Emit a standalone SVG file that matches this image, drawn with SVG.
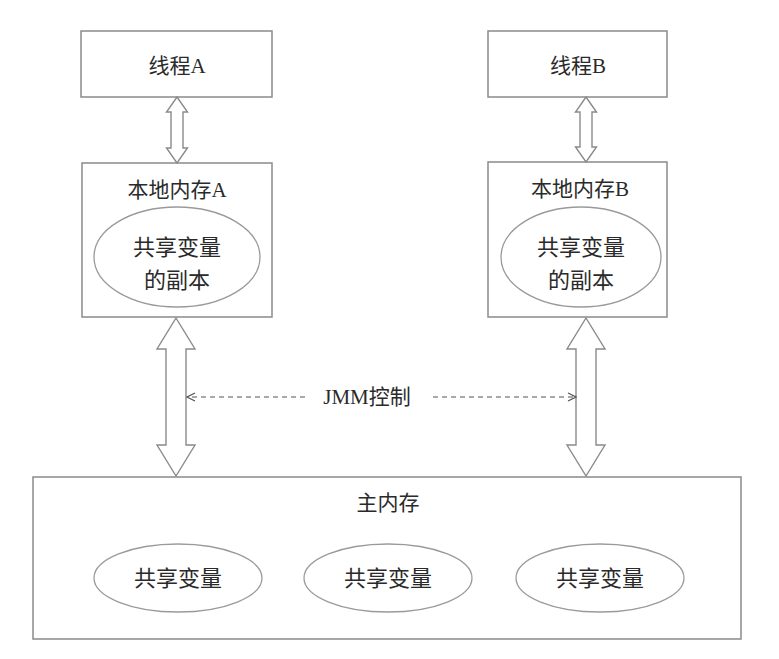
<svg xmlns="http://www.w3.org/2000/svg" width="779" height="659" viewBox="0 0 779 659">
<defs>
<style>
.box{fill:#fff;stroke:#8a8a8a;stroke-width:1.5}
.ell{fill:#fff;stroke:#9a9a9a;stroke-width:1.3}
.arr{fill:#fff;stroke:#8a8a8a;stroke-width:1.4;stroke-linejoin:miter}
.dash{fill:none;stroke:#555;stroke-width:1.2;stroke-dasharray:5 4}
text{font-family:"Liberation Serif","Noto Sans CJK SC",serif;font-size:21px;fill:#2a2a2a;text-anchor:middle;dominant-baseline:central}
.in{font-size:22px}
</style>
<marker id="chev" viewBox="0 0 10 10" refX="9" refY="5" markerWidth="10" markerHeight="10" markerUnits="userSpaceOnUse" orient="auto-start-reverse">
<path d="M1,1 L9,5 L1,9" fill="none" stroke="#555" stroke-width="1.2"/>
</marker>
</defs>
<rect width="779" height="659" fill="#fff"/>
<g id="threadA"><rect class="box" x="81" y="31" width="191" height="66"/><text x="177" y="66">线程A</text></g>
<g id="threadB"><rect class="box" x="488" y="31" width="179" height="66"/><text x="578" y="66">线程B</text></g>
<g id="localA"><rect class="box" x="82" y="163" width="190" height="154"/><text x="177" y="190">本地内存A</text>
<ellipse class="ell" cx="177" cy="257" rx="83" ry="50"/><text class="in" x="177" y="247">共享变量</text><text class="in" x="177" y="280">的副本</text></g>
<g id="localB"><rect class="box" x="488" y="162" width="179" height="155"/><text x="580" y="189">本地内存B</text>
<ellipse class="ell" cx="581" cy="257" rx="80" ry="50"/><text class="in" x="581" y="247">共享变量</text><text class="in" x="581" y="280">的副本</text></g>
<g id="main"><rect class="box" x="33" y="477" width="708" height="162"/><text x="388" y="503">主内存</text>
<ellipse class="ell" cx="178" cy="578" rx="84" ry="34"/><text class="in" x="178" y="578">共享变量</text>
<ellipse class="ell" cx="388" cy="578" rx="84" ry="34"/><text class="in" x="388" y="578">共享变量</text>
<ellipse class="ell" cx="600" cy="578" rx="84" ry="34"/><text class="in" x="600" y="578">共享变量</text></g>
<g id="connectors">
<path class="arr" d="M177,97 L187.5,112 L183,112 L183,148 L187.5,148 L177,163 L166.5,148 L171,148 L171,112 L166.5,112 Z"/>
<path class="arr" d="M586,97 L596.5,112 L592,112 L592,147 L596.5,147 L586,162 L575.5,147 L580,147 L580,112 L575.5,112 Z"/>
<path class="arr" d="M176,318 L195,349 L186,349 L186,445 L195,445 L176,476 L157,445 L166,445 L166,349 L157,349 Z"/>
<path class="arr" d="M586,318 L605,349 L596,349 L596,445 L605,445 L586,476 L567,445 L576,445 L576,349 L567,349 Z"/>
<line class="dash" x1="305" y1="397" x2="187" y2="397" marker-end="url(#chev)"/>
<line class="dash" x1="433" y1="397" x2="576" y2="397" marker-end="url(#chev)"/>
<text x="367" y="397">JMM控制</text>
</g>
</svg>
